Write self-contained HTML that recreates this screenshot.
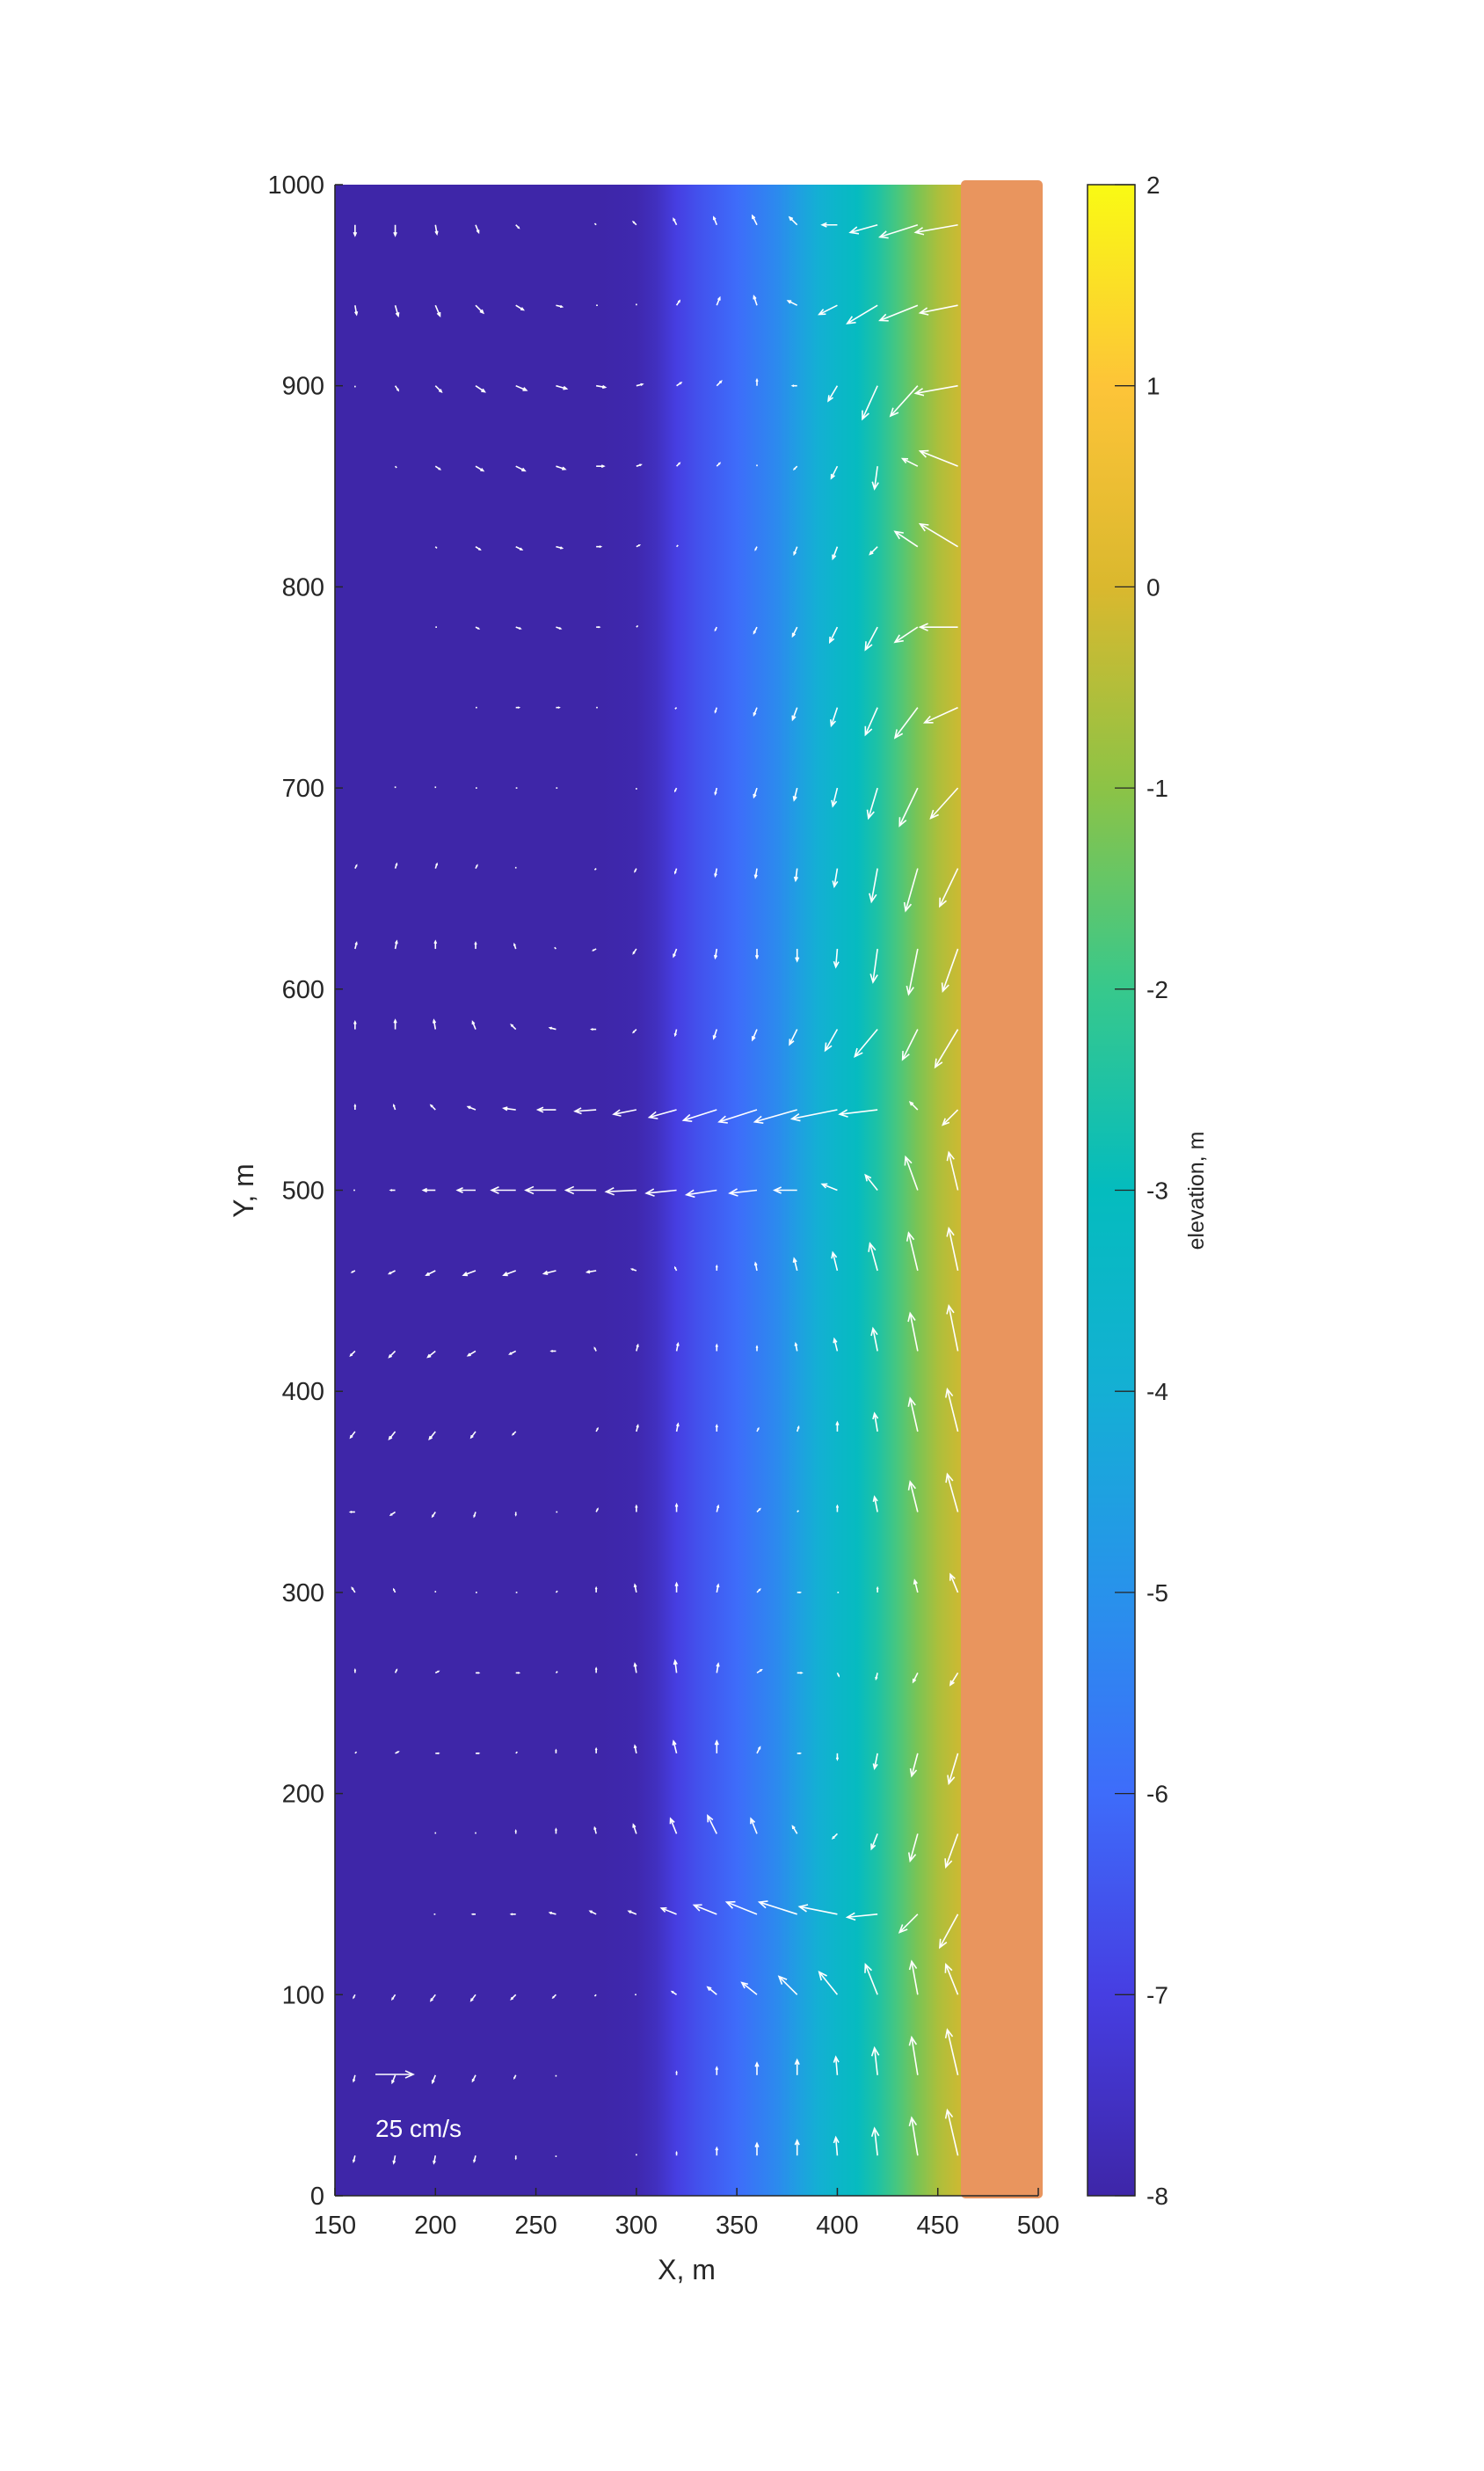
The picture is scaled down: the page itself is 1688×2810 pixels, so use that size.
<!DOCTYPE html>
<html><head><meta charset="utf-8">
<style>
html,body{margin:0;padding:0;background:#fff;}
svg text{font-family:"Liberation Sans",Arial,sans-serif;fill:#262626;}
</style></head>
<body>
<svg id="chart" width="1688" height="2805" viewBox="0 0 1688 2805" xmlns="http://www.w3.org/2000/svg">
<defs>
<linearGradient id="bathyGrad" x1="381" x2="1099" y1="0" y2="0" gradientUnits="userSpaceOnUse"></linearGradient>
<linearGradient id="cbarGrad" x1="0" x2="0" y1="2497" y2="210" gradientUnits="userSpaceOnUse"></linearGradient>
</defs>
<g id="field"></g>
<g id="arrows"></g>
<g id="axes"></g>
<g id="cbar"></g>
</svg>
<script>
// ---- data ----
const profileX = [150,160,170,180,190,200,210,220,230,240,250,260,270,280,290,300,310,320,330,340,350,360,370,380,390,400,410,420,430,440,450,460];
const profileZ = [-8,-8,-8,-8,-8,-8,-8,-8,-8,-8,-8,-8,-8,-8,-7.95,-7.9,-7.6,-7.0,-6.6,-6.3,-6.0,-5.6,-5.2,-4.6,-4.0,-3.5,-3.1,-2.5,-1.8,-1.2,-0.6,-0.2];
const xTicks = [150,200,250,300,350,400,450,500];
const yTicks = [0,100,200,300,400,500,600,700,800,900,1000];
const cTicks = [-8,-7,-6,-5,-4,-3,-2,-1,0,1,2];
const quiverX = [160,180,200,220,240,260,280,300,320,340,360,380,400,420,440,460];
const quiverY = [980,940,900,860,820,780,740,700,660,620,580,540,500,460,420,380,340,300,260,220,180,140,100,60,20];
const quiverU = [
[0,0,1,2,2,0,-1,-2,-2,-2,-3,-5,-10,-18,-25,-28],
[1,2,3,5,5,4,1,0,2,2,-2,-6,-12,-20,-25,-25],
[0,2,4,6,7,7,6,4,3,3,0,-3,-6,-10,-18,-28],
[0,1,3,5,6,6,5,3,2,2,0,-2,-4,-2,-10,-25],
[0,0,1,3,4,4,3,2,1,0,-1,-2,-3,-5,-15,-25],
[0,0,1,2,3,3,2,1,0,-1,-2,-3,-5,-8,-15,-25],
[0,0,0,1,2,2,1,0,-1,-1,-2,-3,-4,-8,-15,-22],
[0,0,0,1,1,1,0,0,-1,-1,-2,-2,-3,-6,-12,-18],
[1,1,1,1,0,0,-1,-1,-1,-1,-1,-1,-2,-4,-8,-12],
[1,1,0,0,-1,-1,-2,-2,-2,-1,0,0,-1,-3,-6,-10],
[0,0,-1,-2,-3,-4,-3,-2,-1,-2,-3,-5,-8,-15,-10,-15],
[0,-1,-3,-5,-8,-12,-14,-15,-18,-22,-25,-28,-30,-25,-5,-10],
[-1,-3,-8,-12,-16,-20,-20,-20,-20,-20,-18,-15,-10,-8,-8,-6],
[-2,-4,-6,-8,-8,-8,-6,-3,-1,0,-1,-2,-3,-5,-6,-6],
[-3,-4,-5,-5,-4,-3,-1,1,1,0,0,-1,-2,-3,-5,-6],
[-3,-4,-4,-3,-2,0,1,1,1,0,1,1,0,-2,-5,-7],
[-3,-3,-2,-1,0,1,1,0,0,1,2,1,0,-2,-5,-7],
[-2,-1,0,1,1,1,0,-1,0,1,2,2,1,0,-2,-5],
[0,1,2,2,2,1,0,-1,-1,1,3,3,1,-1,-3,-5],
[1,2,2,2,1,0,0,-1,-2,0,2,2,0,-2,-4,-6],
[0,0,0,0,0,0,-1,-2,-4,-6,-4,-3,-3,-4,-5,-8],
[0,0,-1,-2,-3,-4,-4,-5,-10,-15,-20,-25,-25,-20,-12,-12],
[-1,-2,-3,-3,-3,-2,-1,-1,-3,-6,-10,-12,-12,-8,-4,-8],
[-1,-2,-2,-2,-1,0,0,0,0,0,0,0,-1,-2,-4,-7],
[-1,-1,-1,-1,0,0,0,0,0,0,0,0,-1,-2,-4,-7]
];
const quiverV = [
[-7,-7,-6,-5,-2,0,1,2,4,5,6,5,0,-5,-8,-5],
[-6,-7,-7,-5,-3,-1,0,1,3,5,6,3,-6,-12,-10,-5],
[-1,-3,-4,-4,-3,-2,-1,1,2,3,4,0,-10,-22,-20,-5],
[0,-1,-2,-3,-3,-2,0,1,2,2,1,-2,-8,-15,5,10],
[0,0,-1,-2,-2,-1,0,1,1,0,-2,-5,-8,-5,10,15],
[0,0,0,-1,-1,-1,0,1,0,-2,-4,-6,-10,-15,-10,0],
[0,0,0,0,0,0,0,0,-1,-3,-5,-8,-12,-18,-20,-10],
[0,1,1,0,0,0,0,-1,-2,-4,-6,-8,-12,-20,-25,-20],
[2,3,3,2,1,0,-1,-2,-3,-5,-6,-8,-12,-22,-28,-25],
[4,5,5,4,3,1,-1,-3,-5,-6,-6,-8,-12,-22,-30,-28],
[5,6,6,5,3,1,0,-2,-4,-6,-7,-10,-14,-18,-20,-25],
[3,3,3,2,1,0,-1,-3,-5,-7,-8,-8,-6,-3,5,-10],
[0,0,0,0,0,0,0,-1,-2,-3,-2,0,4,10,22,25],
[-1,-2,-3,-3,-3,-2,-1,1,2,3,5,8,12,18,25,28],
[-3,-4,-4,-3,-2,0,2,4,5,4,3,5,8,15,25,30],
[-4,-5,-5,-4,-2,0,2,4,5,4,2,3,6,12,22,28],
[0,-2,-3,-3,-2,0,2,4,5,4,2,1,4,10,20,25],
[3,2,1,0,0,1,3,5,6,5,2,0,0,3,8,12],
[2,2,1,0,0,1,3,6,8,6,2,0,-2,-4,-6,-8],
[1,1,0,0,1,2,3,5,8,8,4,0,-4,-10,-15,-20],
[0,0,1,1,2,3,4,6,10,12,10,5,-3,-10,-18,-22],
[0,0,0,0,0,1,2,2,4,6,8,8,5,-2,-12,-22],
[-2,-3,-4,-4,-3,-2,-1,0,2,5,8,12,15,20,22,20],
[-4,-5,-5,-4,-2,-1,0,0,2,5,8,10,12,18,25,30],
[-4,-5,-5,-4,-2,-1,0,1,2,5,8,10,12,18,25,30]
];
const refSpeed = 25;

// ---- scales ----
const X0=381, X1=1181, Y0=2497, Y1=210;
const sx = x => X0 + (x-150)/(500-150)*(X1-X0);
const sy = y => Y0 - y/1000*(Y0-Y1);
const CB0=2497, CB1=210;
const sc = z => CB0 - (z+8)/10*(CB0-CB1);
const PXPER = 1.72;

const parula = [[62,38,168],[70,62,226],[62,108,250],[40,146,235],[20,175,212],[4,188,190],[55,200,140],[140,195,70],[218,184,46],[253,196,56],[249,250,20]];
function cmap(z){
  let t=(z+8)/10; t=Math.max(0,Math.min(1,t));
  const f=t*(parula.length-1), i=Math.min(Math.floor(f),parula.length-2), r=f-i;
  const a=parula[i], b=parula[i+1];
  return 'rgb('+a.map((v,k)=>Math.round(v+(b[k]-v)*r)).join(',')+')';
}
const NS='http://www.w3.org/2000/svg';
function mk(tag,attrs,parent){const e=document.createElementNS(NS,tag);for(const k in attrs)e.setAttribute(k,attrs[k]);parent.appendChild(e);return e;}

// gradients
const bg=document.getElementById('bathyGrad');
profileX.forEach((x,i)=>{
  const s=document.createElementNS(NS,'stop');
  s.setAttribute('offset',((sx(x)-381)/(1099-381)).toFixed(4));
  s.setAttribute('stop-color',cmap(profileZ[i]));
  bg.appendChild(s);
});
const cg=document.getElementById('cbarGrad');
for(let k=0;k<=20;k++){
  const z=-8+k*0.5;
  const s=document.createElementNS(NS,'stop');
  s.setAttribute('offset',(k/20).toFixed(3));
  s.setAttribute('stop-color',cmap(z));
  cg.appendChild(s);
}

// field
const field=document.getElementById('field');
const fr=mk('rect',{x:sx(150),y:Y1,width:sx(464)-sx(150),height:Y0-Y1,fill:'url(#bathyGrad)'},field);


const land=mk('rect',{x:1093,y:205,width:93,height:2295,rx:5,fill:'#E9955E'},field);



// arrows
const ag=document.getElementById('arrows');
function arrow(x,y,u,v,parent){
  const dx=u*PXPER, dy=-v*PXPER, L=Math.hypot(dx,dy);
  const x2=x+dx,y2=y+dy;
  const g=mk('g',{},parent);
  mk('line',{x1:x,y1:y,x2:x2,y2:y2,stroke:'#fff','stroke-width':1.6},g);
  if(L>3){
    const ux=dx/L,uy=dy/L,h=Math.min(9,L*0.3),w=h*0.45;
    mk('polyline',{points:[x2-ux*h-uy*w,y2-uy*h+ux*w,x2,y2,x2-ux*h+uy*w,y2-uy*h-ux*w].join(','),fill:'none',stroke:'#fff','stroke-width':1.6},g);
  }
  return g;
}
quiverY.forEach((yv,r)=>{
  quiverX.forEach((xv,c)=>{
    const g=arrow(sx(xv),sy(yv),quiverU[r][c],quiverV[r][c],ag);
    
    
  });
});
// reference arrow
const ref=arrow(427,2359,refSpeed,0,ag);


const rt=mk('text',{x:427,y:2430,'font-size':28,style:'fill:#fff'},ag);
rt.textContent='25 cm/s';



// axes
const ax=document.getElementById('axes');
mk('line',{x1:X0,y1:Y0,x2:X1,y2:Y0,stroke:'#262626','stroke-width':1.6},ax);
mk('line',{x1:X0,y1:Y0,x2:X0,y2:Y1,stroke:'#262626','stroke-width':1.6},ax);
xTicks.forEach(t=>{
  mk('line',{x1:sx(t),y1:Y0,x2:sx(t),y2:Y0-9,stroke:'#262626','stroke-width':1.5},ax);
  const tx=mk('text',{x:sx(t),y:2540,'font-size':29,'text-anchor':'middle'},ax);
  tx.textContent=t;
  
  
});
yTicks.forEach(t=>{
  mk('line',{x1:X0,y1:sy(t),x2:X0+9,y2:sy(t),stroke:'#262626','stroke-width':1.5},ax);
  const tx=mk('text',{x:369,y:sy(t)+10,'font-size':29,'text-anchor':'end'},ax);
  tx.textContent=t;
  
  
});
const xl=mk('text',{x:781,y:2592,'font-size':32,'text-anchor':'middle'},ax);
xl.textContent='X, m';


const yl=mk('text',{x:0,y:0,'font-size':32,'text-anchor':'middle',transform:'translate(288,1354) rotate(-90)'},ax);
yl.textContent='Y, m';



// colorbar
const cb=document.getElementById('cbar');
const cr=mk('rect',{x:1237,y:CB1,width:54,height:CB0-CB1,fill:'url(#cbarGrad)',stroke:'#262626','stroke-width':1.5},cb);


cTicks.forEach(t=>{
  mk('line',{x1:1268,y1:sc(t),x2:1291,y2:sc(t),stroke:'#262626','stroke-width':1.3},cb);
  const tx=mk('text',{x:1304,y:sc(t)+10,'font-size':28},cb);
  tx.textContent=t;
  
  
});
const cl=mk('text',{x:0,y:0,'font-size':25,'text-anchor':'middle',transform:'translate(1369,1354) rotate(-90)'},cb);
cl.textContent='elevation, m';


</script>
</body></html>
